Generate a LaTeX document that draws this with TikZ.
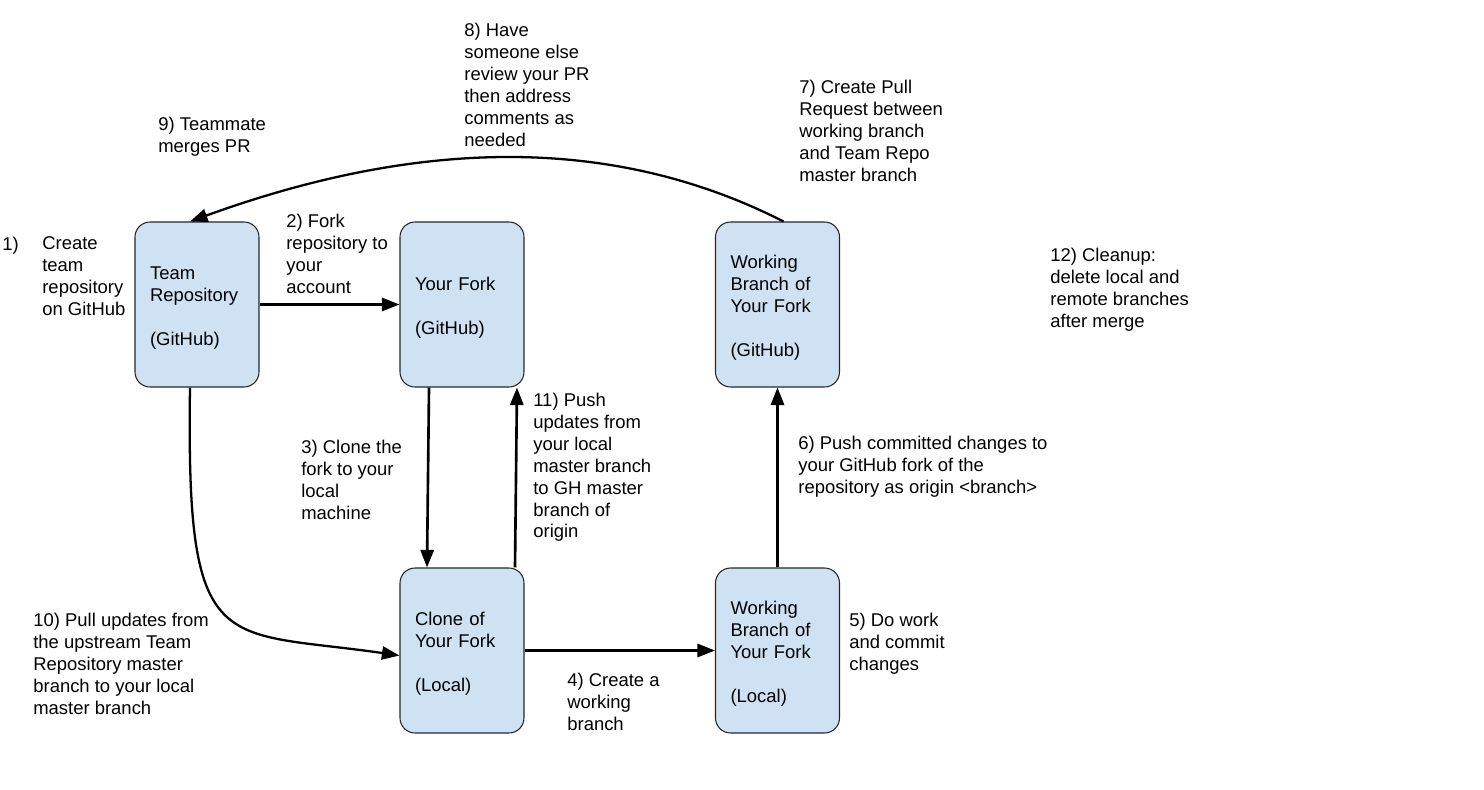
\documentclass[tikz,border=0pt]{standalone}
\usepackage{fontspec}
\setmainfont{Liberation Sans}
\usetikzlibrary{arrows.meta,calc}
\definecolor{boxblue}{HTML}{CFE2F3}

\begin{document}
\begin{tikzpicture}[x=0.02cm,y=-0.02cm,
        every node/.style={font=\fontsize{10.5}{12.5}\selectfont},
        repobox/.style={draw=black!85, line width=0.6pt, fill=boxblue, rounded corners=0.3cm,
            minimum width=2.48cm, minimum height=3.3cm, text width=1.88cm, inner xsep=0.3cm,
            align=left, execute at begin node={\rule{0pt}{11pt}}},
        note/.style={anchor=north west, align=left, inner sep=0pt},
        flow/.style={line width=1.5pt, -{Triangle[length=10pt,width=7.5pt]}},
        curvedflow/.style={line width=1.3pt, -{Triangle[length=10pt,width=7.5pt]}}]
        \useasboundingbox (0,0) rectangle (1484,790);

        % the repositories
        \node[repobox] (team) at (197,304.5) {Team\\Repository\\[12.5pt](GitHub)};
        \node[repobox] (fork) at (462,304.5) {Your Fork\\[12.5pt](GitHub)};
        \node[repobox] (wgh) at (777.5,304.5) {Working\\Branch of\\Your Fork\\[12.5pt](GitHub)};
        \node[repobox] (clone) at (462,650.5) {Clone of\\Your Fork\\[12.5pt](Local)};
        \node[repobox] (wlocal) at (777.5,650.5) {Working\\Branch of\\Your Fork\\[12.5pt](Local)};

        % the steps
        \draw[flow] (team.east) -- (fork.west);
        \draw[flow] (fork.south) ++(-33,0) -- ($(clone.north)+(-35,0)$);
        \draw[flow] (clone.east) -- (wlocal.west);
        \draw[flow] (wlocal.north) -- (wgh.south);
        \draw[flow] (clone.north) ++(53,0) -- ($(fork.south)+(55,0)$);
        \draw[curvedflow] (wgh.north) ++(6,0) .. controls +(-167,-85) and +(234,-85) .. ($(team.north)+(-7,0)$);
        \draw[curvedflow] (team.south) ++(-7,0) .. controls +(-4,273) and +(-180,-26) .. ($(clone.west)+(0,5)$);

        % what each step does
        \node[note] (step1num) at (2,236.5) {1)};
        \node[note] (step1) at (42,236.5) {Create\\team\\repository\\on GitHub};
        \node[note] (step2) at (286,213.5) {2) Fork\\repository to\\your\\account};
        \node[note] (step3) at (301,439.5) {3) Clone the\\fork to your\\local\\machine};
        \node[note] (step4) at (567,672.5) {4) Create a\\working\\branch};
        \node[note] (step5) at (849,612.5) {5) Do work\\and commit\\changes};
        \node[note] (step6) at (798,435.5) {6) Push committed changes to\\your GitHub fork of the\\repository as origin <branch>};
        \node[note] (step7) at (799,79.5) {7) Create Pull\\Request between\\working branch\\and Team Repo\\master branch};
        \node[note] (step8) at (464,22.5) {8) Have\\someone else\\review your PR\\then address\\comments as\\needed};
        \node[note] (step9) at (158,116.5) {9) Teammate\\merges PR};
        \node[note] (step10) at (33,612.5) {10) Pull updates from\\the upstream Team\\Repository master\\branch to your local\\master branch};
        \node[note] (step11) at (533,392.5) {11) Push\\updates from\\your local\\master branch\\to GH master\\branch of\\origin};
        \node[note] (step12) at (1050,247.5) {12) Cleanup:\\delete local and\\remote branches\\after merge};
\end{tikzpicture}
\end{document}
